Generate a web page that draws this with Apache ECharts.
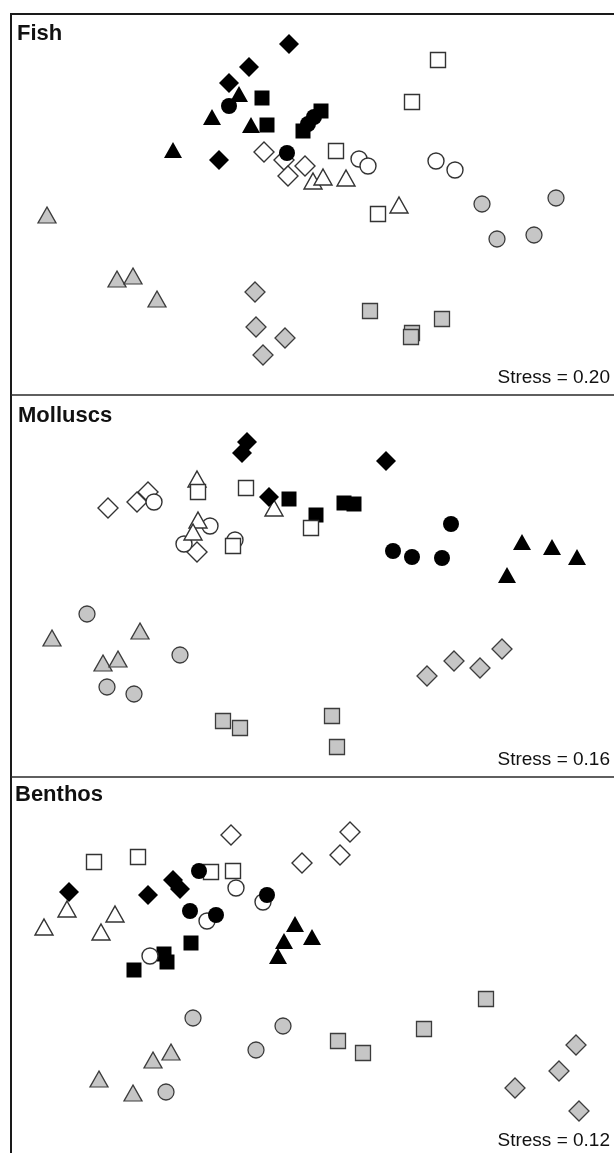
<!DOCTYPE html>
<html>
<head>
<meta charset="utf-8">
<script src="https://cdn.jsdelivr.net/npm/echarts/dist/echarts.min.js"></script>
<style>
  html, body { margin: 0; padding: 0; background: #fff; }
  #chart { width: 614px; height: 1153px; }
</style>
</head>
<body>
<div id="chart"></div>
<script>
// nMDS ordinations of sites for three assemblages; [axis 1, axis 2]
const panelNames = ['Fish', 'Molluscs', 'Benthos'];
const stressLabels = ['Stress = 0.20', 'Stress = 0.16', 'Stress = 0.12'];

// ---- Fish ----
const fishGrayDiamond   = [[2.44, 1.03], [2.45, 0.68], [2.74, 0.57], [2.52, 0.40]];
const fishGraySquare    = [[3.59, 0.84], [4.31, 0.76], [4.01, 0.62], [4.00, 0.58]];
const fishGrayTriangle  = [[0.36, 1.80], [1.06, 1.16], [1.22, 1.19], [1.46, 0.96]];
const fishGrayCircle    = [[4.71, 1.91], [5.45, 1.97], [4.86, 1.56], [5.23, 1.60]];
const fishBlackSquare   = [[2.51, 2.97], [2.56, 2.70], [3.10, 2.84], [2.92, 2.64]];
const fishOpenDiamond   = [[2.53, 2.43], [2.73, 2.35], [2.77, 2.19], [2.94, 2.29]];
const fishOpenCircle    = [[3.48, 2.36], [3.57, 2.29], [4.25, 2.34], [4.44, 2.25]];
const fishOpenTriangle  = [[3.02, 2.14], [3.12, 2.18], [3.35, 2.17], [3.88, 1.90]];
const fishOpenSquare    = [[4.27, 3.35], [4.01, 2.93], [3.25, 2.44], [3.67, 1.81]];
const fishBlackTriangle = [[2.28, 3.01], [2.01, 2.78], [1.62, 2.45], [2.40, 2.70]];
const fishBlackDiamond  = [[2.78, 3.51], [2.38, 3.28], [2.18, 3.12], [2.08, 2.35]];
const fishBlackCircle   = [[2.18, 2.89], [2.76, 2.42], [3.03, 2.78], [2.97, 2.71]];

// ---- Molluscs ----
const mollGrayDiamond   = [[4.16, 1.01], [4.43, 1.16], [4.69, 1.09], [4.91, 1.28]];
const mollGraySquare    = [[2.12, 0.56], [2.29, 0.49], [3.21, 0.61], [3.26, 0.30]];
const mollGrayTriangle  = [[0.41, 1.39], [1.29, 1.46], [0.92, 1.14], [1.07, 1.18]];
const mollGrayCircle    = [[0.76, 1.63], [1.69, 1.22], [0.96, 0.90], [1.23, 0.83]];
const mollBlackSquare   = [[2.78, 2.78], [3.05, 2.62], [3.33, 2.74], [3.43, 2.73]];
const mollOpenDiamond   = [[0.97, 2.69], [1.26, 2.75], [1.37, 2.85], [1.86, 2.25]];
const mollOpenCircle    = [[1.43, 2.75], [1.99, 2.51], [1.73, 2.33], [2.24, 2.37]];
const mollOpenTriangle  = [[1.86, 2.98], [2.63, 2.69], [1.87, 2.57], [1.82, 2.45]];
const mollOpenSquare    = [[1.87, 2.85], [2.35, 2.89], [2.22, 2.31], [3.00, 2.49]];
const mollBlackTriangle = [[5.11, 2.35], [5.41, 2.30], [5.66, 2.20], [4.96, 2.02]];
const mollBlackDiamond  = [[2.36, 3.35], [2.31, 3.24], [2.58, 2.80], [3.75, 3.16]];
const mollBlackCircle   = [[4.40, 2.53], [3.82, 2.26], [4.01, 2.20], [4.31, 2.19]];

// ---- Benthos ----
const bentGrayDiamond   = [[5.65, 1.08], [5.48, 0.82], [5.04, 0.65], [5.68, 0.42]];
const bentGraySquare    = [[4.75, 1.54], [4.13, 1.24], [3.27, 1.12], [3.52, 1.00]];
const bentGrayTriangle  = [[1.60, 1.01], [1.42, 0.93], [0.88, 0.74], [1.22, 0.60]];
const bentGrayCircle    = [[1.82, 1.35], [2.72, 1.27], [2.45, 1.03], [1.55, 0.61]];
const bentBlackSquare   = [[1.80, 2.10], [1.53, 1.99], [1.56, 1.91], [1.23, 1.83]];
const bentOpenDiamond   = [[2.20, 3.18], [2.91, 2.90], [3.39, 3.21], [3.29, 2.98]];
const bentOpenCircle    = [[2.25, 2.65], [1.96, 2.32], [2.52, 2.51], [1.39, 1.97]];
const bentOpenTriangle  = [[0.56, 2.44], [0.33, 2.26], [1.04, 2.39], [0.90, 2.21]];
const bentOpenSquare    = [[0.83, 2.91], [1.27, 2.96], [2.00, 2.81], [2.22, 2.82]];
const bentBlackTriangle = [[2.84, 2.29], [2.73, 2.12], [2.67, 1.97], [3.01, 2.16]];
const bentBlackDiamond  = [[0.58, 2.61], [1.37, 2.58], [1.62, 2.73], [1.69, 2.64]];
const bentBlackCircle   = [[1.88, 2.82], [1.79, 2.42], [2.05, 2.38], [2.56, 2.58]];

// axis extents for each panel (x, y)
const xMax = 6.03;
const yMaxes = [3.81, 3.82, 3.76];

// draw order: later groups sit on top
const groupKeys = ['grayDiamond', 'graySquare', 'grayTriangle', 'grayCircle',
  'blackSquare', 'openDiamond', 'openCircle', 'openTriangle', 'openSquare',
  'blackTriangle', 'blackDiamond', 'blackCircle'];

const panelData = [
  [fishGrayDiamond, fishGraySquare, fishGrayTriangle, fishGrayCircle,
   fishBlackSquare, fishOpenDiamond, fishOpenCircle, fishOpenTriangle, fishOpenSquare,
   fishBlackTriangle, fishBlackDiamond, fishBlackCircle],
  [mollGrayDiamond, mollGraySquare, mollGrayTriangle, mollGrayCircle,
   mollBlackSquare, mollOpenDiamond, mollOpenCircle, mollOpenTriangle, mollOpenSquare,
   mollBlackTriangle, mollBlackDiamond, mollBlackCircle],
  [bentGrayDiamond, bentGraySquare, bentGrayTriangle, bentGrayCircle,
   bentBlackSquare, bentOpenDiamond, bentOpenCircle, bentOpenTriangle, bentOpenSquare,
   bentBlackTriangle, bentBlackDiamond, bentBlackCircle]
];

const shapes = {
  Diamond:  { symbol: 'diamond',  size: [20, 20] },
  Square:   { symbol: 'rect',     size: [15, 15] },
  Triangle: { symbol: 'triangle', size: [18, 16] },
  Circle:   { symbol: 'circle',   size: [16, 16] }
};
const fills = {
  gray:  { color: '#c6c6c6', borderColor: '#3c3c3c', borderWidth: 1.3 },
  open:  { color: '#ffffff', borderColor: '#333333', borderWidth: 1.4 },
  black: { color: '#000000', borderColor: '#000000', borderWidth: 0 }
};

const panelTops = [14, 395, 777];
const panelHeights = [381, 382, 376];

const grids = [], xAxes = [], yAxes = [], series = [];
panelTops.forEach((top, i) => {
  grids.push({ left: 11, top: top, width: 603, height: panelHeights[i], containLabel: false });
  xAxes.push({ type: 'value', gridIndex: i, min: 0, max: xMax, show: false });
  yAxes.push({ type: 'value', gridIndex: i, min: 0, max: yMaxes[i], show: false });
  groupKeys.forEach((key, k) => {
    const fillKey = key.match(/^(gray|open|black)/)[1];
    const shapeKey = key.slice(fillKey.length);
    series.push({
      type: 'scatter',
      xAxisIndex: i,
      yAxisIndex: i,
      data: panelData[i][k],
      symbol: shapes[shapeKey].symbol,
      symbolSize: shapes[shapeKey].size,
      itemStyle: Object.assign({ opacity: 1 }, fills[fillKey]),
      silent: true
    });
  });
});

const titleFont = 'bold 22px "Liberation Sans", Arial, sans-serif';
const stressFont = '19px "Liberation Sans", Arial, sans-serif';
const titlePos = [[17, 34], [18, 416], [15, 795]];
const stressY = [378, 760, 1141];

const graphics = [
  { type: 'line', shape: { x1: 11, y1: 14, x2: 614, y2: 14 }, style: { stroke: '#1a1a1a', lineWidth: 2 } },
  { type: 'line', shape: { x1: 11, y1: 13, x2: 11, y2: 1153 }, style: { stroke: '#1a1a1a', lineWidth: 2 } },
  { type: 'line', shape: { x1: 11, y1: 395, x2: 614, y2: 395 }, style: { stroke: '#2a2a2a', lineWidth: 1.6 } },
  { type: 'line', shape: { x1: 11, y1: 777, x2: 614, y2: 777 }, style: { stroke: '#2a2a2a', lineWidth: 1.6 } }
];
panelNames.forEach((name, i) => {
  graphics.push({ type: 'text', x: titlePos[i][0], y: titlePos[i][1],
    style: { text: name, font: titleFont, fill: '#111', align: 'left', verticalAlign: 'middle' } });
  graphics.push({ type: 'text', x: 610, y: stressY[i],
    style: { text: stressLabels[i], font: stressFont, fill: '#111', align: 'right', verticalAlign: 'middle' } });
});

const chart = echarts.init(document.getElementById('chart'), null, { renderer: 'canvas' });
chart.setOption({
  backgroundColor: '#ffffff',
  animation: false,
  grid: grids,
  xAxis: xAxes,
  yAxis: yAxes,
  series: series,
  graphic: graphics
});
</script>
</body>
</html>
